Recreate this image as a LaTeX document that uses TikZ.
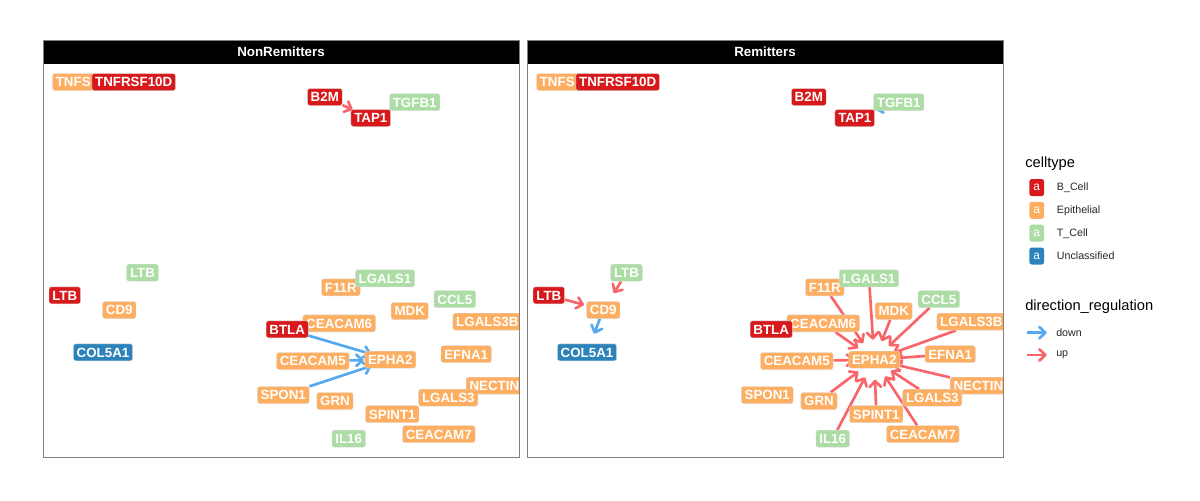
\documentclass[tikz,border=0pt]{standalone}
\usepackage{fontspec}
\setmainfont{Liberation Sans}
\usetikzlibrary{arrows.meta, positioning}
\definecolor{bcellcol}{HTML}{D7191C}
\definecolor{epicol}{HTML}{FDAE61}
\definecolor{tcellcol}{HTML}{ABDDA4}
\definecolor{unclcol}{HTML}{2B83BA}
\definecolor{upcol}{HTML}{F8666C}
\definecolor{downcol}{HTML}{56A9EE}
\pgfdeclarelayer{edges}
\pgfsetlayers{edges,main}
\tikzstyle{gene}=[rounded corners=1.8pt, text=white, font=\bfseries\fontsize{10}{10}\selectfont,
  inner xsep=2.5pt, inner ysep=2pt, text height=7.2pt, text depth=0pt, minimum height=12.75pt,
  draw=white!85!black, line width=0.3pt]
\tikzstyle{bcell}=[gene, fill=bcellcol]
\tikzstyle{epi}=[gene, fill=epicol]
\tikzstyle{tcell}=[gene, fill=tcellcol]
\tikzstyle{uncl}=[gene, fill=unclcol]
\tikzstyle{reg}=[line width=2pt, shorten >=15pt, -{Straight Barb[length=4.5pt, width=8.5pt, round]}]
\tikzstyle{upreg}=[reg, draw=upcol]
\tikzstyle{downreg}=[reg, draw=downcol]
\tikzstyle{key}=[rounded corners=1.8pt, text=white, font=\fontsize{9}{9}\selectfont,
  minimum width=11pt, minimum height=12.75pt, inner sep=0pt]
\tikzstyle{keytext}=[font=\fontsize{8}{8}\selectfont, text=black!85, inner sep=0pt]
\tikzstyle{legtitle}=[font=\fontsize{11}{11}\selectfont, inner sep=0pt, anchor=base west]
\tikzstyle{frame}=[draw=black!50, line width=0.75pt]

% the same gene labels sit in both panels
\newcommand{\genelabels}[1]{
  \node[epi, anchor=west] (#1TNFS)      at (52.3,82)    {TNFS\hphantom{F1}};
  \node[bcell]            (#1TNFRSF10D) at (133.7,82)   {TNFRSF10D};
  \node[bcell]            (#1B2M)       at (324.8,97)   {B2M};
  \node[tcell]            (#1TGFB1)     at (414.7,102.2) {TGFB1};
  \node[bcell]            (#1TAP1)      at (370.8,118)  {TAP1};
  \node[tcell]            (#1LTBt)      at (142.5,272.7) {LTB};
  \node[bcell]            (#1LTBb)      at (64.8,295.3) {LTB};
  \node[epi]              (#1CD9)       at (119.3,310)  {CD9};
  \node[uncl]             (#1COL5A1)    at (103,352.3)  {COL5A1};
  \node[epi]              (#1F11R)      at (340.8,287.3) {F11R};
  \node[tcell]            (#1LGALS1)    at (385,278.3)  {LGALS1};
  \node[tcell]            (#1CCL5)      at (454.8,299.2) {CCL5};
  \node[epi]              (#1MDK)       at (409.7,311)  {MDK};
  \node[epi, anchor=west] (#1LGALS3B)   at (452.7,321.7) {LGALS3B\hphantom{PP}};
  \node[epi]              (#1CEACAM6)   at (339.2,323.3) {CEACAM6};
  \node[bcell]            (#1BTLA)      at (287.2,329.3) {BTLA};
  \node[epi]              (#1CEACAM5)   at (312.8,361)  {CEACAM5};
  \node[epi]              (#1EPHA2)     at (390.3,359.7) {EPHA2};
  \node[epi]              (#1EFNA1)     at (466.2,354.2) {EFNA1};
  \node[epi, anchor=west] (#1NECTIN)    at (466,385.7)  {NECTIN\hphantom{22}};
  \node[epi]              (#1LGALS3)    at (448.3,397.7) {LGALS3};
  \node[epi]              (#1SPON1)     at (283.3,395)  {SPON1};
  \node[epi]              (#1GRN)       at (335,401)    {GRN};
  \node[epi]              (#1SPINT1)    at (392.3,414.2) {SPINT1};
  \node[tcell]            (#1IL16)      at (348.7,438.7) {IL16};
  \node[epi]              (#1CEACAM7)   at (438.8,434.2) {CEACAM7};
}

\begin{document}
\begin{tikzpicture}[x=0.75pt, y=-0.75pt]
  \useasboundingbox (0,0) rectangle (1200,500);

  % panels
  \begin{scope}
    \clip (43,64) rectangle (519,457);
    \genelabels{L-}
  \end{scope}
  \begin{scope}[shift={(484,0)}]
    \clip (43,64) rectangle (519,457);
    \genelabels{R-}
  \end{scope}
  \foreach \dx/\side/\name in {0/L/NonRemitters, 484/R/Remitters} {
    \begin{scope}[shift={(\dx,0)}]
      \fill[black] (43,40) rectangle (519,64);
      \node[text=white, font=\bfseries\fontsize{10}{10}\selectfont] (\side-title) at (281,52) {\name};
      \draw[frame] (43,40) rectangle (519,457);
    \end{scope}
  }

  \begin{pgfonlayer}{edges}
    \path[upreg]
      (L-B2M) edge (L-TAP1.center);
    \path[downreg]
      (L-BTLA) edge (L-EPHA2.center)
      (L-SPON1) edge (L-EPHA2.center)
      (L-CEACAM5) edge [shorten >=20pt] (L-EPHA2.center);
    \draw[downreg, shorten >=0pt] (R-TGFB1.center) -- (R-TAP1.north east);
    \path[downreg]
      (R-CD9) edge (R-COL5A1.center);
    \path[upreg]
      (R-LTBb) edge (R-CD9.center)
      (R-LTBt) edge (R-CD9.center)
      (R-F11R) edge (R-EPHA2.center)
      (R-CEACAM6) edge (R-EPHA2.center)
      (R-LGALS1) edge (R-EPHA2.center)
      (R-MDK) edge (R-EPHA2.center)
      (R-CCL5) edge (R-EPHA2.center)
      (R-LGALS3B) edge (R-EPHA2.center)
      (R-EFNA1) edge (R-EPHA2.center)
      (R-NECTIN) edge (R-EPHA2.center)
      (R-LGALS3) edge (R-EPHA2.center)
      (R-CEACAM7) edge (R-EPHA2.center)
      (R-SPINT1) edge (R-EPHA2.center)
      (R-IL16) edge (R-EPHA2.center)
      (R-GRN) edge (R-EPHA2.center)
      (R-CEACAM5) edge (R-EPHA2.center);
  \end{pgfonlayer}

  % legend
  \node[legtitle] (celltype) at (1025,167) {celltype};
  \node[key, fill=bcellcol] (kB) at (1036.7,187.5) {a};
  \node[key, fill=epicol]   (kE) at (1036.7,210.3) {a};
  \node[key, fill=tcellcol] (kT) at (1036.7,233.2) {a};
  \node[key, fill=unclcol]  (kU) at (1036.7,256)   {a};
  \node[keytext, right=9.3pt of kB] (lB) {B\_Cell};
  \node[keytext, right=9.3pt of kE] (lE) {Epithelial};
  \node[keytext, right=9.3pt of kT] (lT) {T\_Cell};
  \node[keytext, right=9.3pt of kU] (lU) {Unclassified};

  \node[legtitle] (direction) at (1025,310.5) {direction\_regulation};
  \coordinate (dn0) at (1027.3,332.7);
  \coordinate (dn1) at (1046.7,332.7);
  \coordinate (up0) at (1027.3,355);
  \coordinate (up1) at (1046.7,355);
  \draw[downreg, shorten >=0pt] (dn0) -- (dn1);
  \draw[upreg, shorten >=0pt] (up0) -- (up1);
  \node[keytext, right=7pt of dn1] (ldn) {down};
  \node[keytext, right=7pt of up1] (lup) {up};
\end{tikzpicture}
\end{document}
